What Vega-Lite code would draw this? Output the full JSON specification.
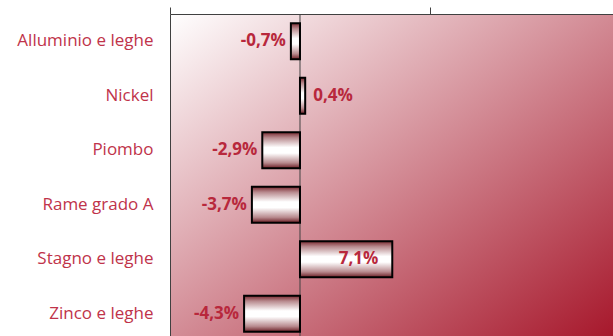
{
  "$schema": "https://vega.github.io/schema/vega-lite/v6.json",
  "autosize": "none",
  "padding": {"left": 170, "top": 14, "right": 0, "bottom": 0},
  "width": 443,
  "height": 327,
  "background": "white",
  "config": {
    "view": {
      "stroke": null,
      "fill": {"gradient": "linear", "x1": 0, "y1": 0, "x2": 1, "y2": 1,
        "stops": [{"offset": 0, "color": "#ffffff"}, {"offset": 1, "color": "#a6162a"}]}
    },
    "font": "Open Sans"
  },
  "data": {"values": [
    {"metallo": "Alluminio e leghe", "value": -0.7, "label": "-0,7%"},
    {"metallo": "Nickel", "value": 0.4, "label": "0,4%"},
    {"metallo": "Piombo", "value": -2.9, "label": "-2,9%"},
    {"metallo": "Rame grado A", "value": -3.7, "label": "-3,7%"},
    {"metallo": "Stagno e leghe", "value": 7.1, "label": "7,1%"},
    {"metallo": "Zinco e leghe", "value": -4.3, "label": "-4,3%"}
  ]},
  "encoding": {
    "y": {"field": "metallo", "type": "nominal", "sort": null,
      "scale": {"paddingInner": 0.34, "paddingOuter": 0.17},
      "axis": {"title": null, "ticks": false, "domain": true, "domainColor": "#404040", "domainWidth": 1,
        "labelColor": "#c0334a", "labelFontSize": 17, "labelFont": "Open Sans", "labelPadding": 17}},
    "x": {"field": "value", "type": "quantitative",
      "scale": {"domain": [-10, 24.08], "nice": false, "zero": false},
      "axis": {"orient": "top", "title": null, "labels": false, "grid": false, "values": [-10, 10, 30],
        "tickSize": 7, "tickColor": "#404040", "domainColor": "#404040", "domainWidth": 1}}
  },
  "layer": [
    {
      "data": {"values": [{"zero": 0}]},
      "mark": {"type": "rule", "color": "#404040", "strokeWidth": 1},
      "encoding": {"x": {"field": "zero", "type": "quantitative"}, "y": null}
    },
    {
      "mark": {"type": "bar", "stroke": "#000000", "strokeWidth": 2,
        "fill": {"gradient": "linear", "x1": 0, "y1": 0, "x2": 0, "y2": 1,
          "stops": [
            {"offset": 0, "color": "#7a2a31"},
            {"offset": 0.15, "color": "#b88a8e"},
            {"offset": 0.42, "color": "#ffffff"},
            {"offset": 0.58, "color": "#ffffff"},
            {"offset": 0.85, "color": "#b88a8e"},
            {"offset": 1, "color": "#6a1d24"}
          ]}},
      "encoding": {"x2": {"datum": 0}}
    },
    {
      "transform": [{"filter": "datum.value < 0"}],
      "mark": {"type": "text", "align": "right", "baseline": "middle", "dx": -5, "fontWeight": "bold", "fontSize": 17, "color": "#b8283c"},
      "encoding": {"text": {"field": "label"}}
    },
    {
      "transform": [{"filter": "datum.value > 0 && datum.value < 1"}],
      "mark": {"type": "text", "align": "left", "baseline": "middle", "dx": 8, "fontWeight": "bold", "fontSize": 17, "color": "#b8283c"},
      "encoding": {"text": {"field": "label"}}
    },
    {
      "transform": [{"filter": "datum.value >= 1"}],
      "mark": {"type": "text", "align": "right", "baseline": "middle", "dx": -14, "fontWeight": "bold", "fontSize": 17, "color": "#b8283c"},
      "encoding": {"text": {"field": "label"}}
    }
  ]
}
